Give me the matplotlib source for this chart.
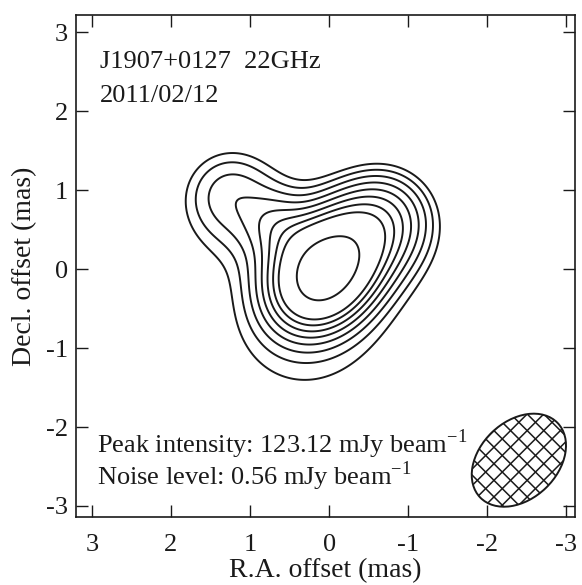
import numpy as np
import matplotlib
matplotlib.use("Agg")
import matplotlib.pyplot as plt
from matplotlib.patches import Ellipse

plt.rcParams['font.family'] = ['Liberation Serif', 'DejaVu Serif']
plt.rcParams['mathtext.fontset'] = 'custom'
plt.rcParams['mathtext.rm'] = 'Liberation Serif'
plt.rcParams['axes.unicode_minus'] = False

# Brightness model: elliptical Gaussian components
# (R.A. offset, Decl. offset [mas], relative amplitude, sigma major/minor [mas], angle [deg])
comp_x = [0.070, 1.290, 0.676, -0.722, 0.259]
comp_y = [-0.041, 1.021, 0.580, 0.699, -1.069]
comp_amp = [1.0, 0.3536, 0.1273, 0.4379, 0.6450]
comp_smaj = [0.544, 0.584, 0.279, 0.553, 2.821]
comp_smin = [0.438, 0.584, 0.279, 0.553, 2.821]
comp_ang = [128.8, 0.0, 0.0, 0.0, 0.0]

# contour levels as fractions of the map peak
levels_frac = [0.3971, 0.4289, 0.4632, 0.5004, 0.5404, 0.5837, 0.6304, 0.6808, 0.8517]

peak_mjy = 123.12
noise_mjy = 0.56
source_name = 'J1907+0127  22GHz'
obs_date = '2011/02/12'

beam_x, beam_y = -2.4, -2.42
beam_major, beam_minor, beam_angle = 1.36, 0.98, 136.0

xticks = [3, 2, 1, 0, -1, -2, -3]
yticks = [-3, -2, -1, 0, 1, 2, 3]

x = np.linspace(3.3, -3.3, 600)
y = np.linspace(-3.3, 3.3, 600)
X, Y = np.meshgrid(x, y)
Z = np.zeros_like(X)
for cx, cy, a, sa, sb, ang in zip(comp_x, comp_y, comp_amp, comp_smaj, comp_smin, comp_ang):
    t = np.deg2rad(ang)
    dx, dy = X - cx, Y - cy
    u = dx * np.cos(t) + dy * np.sin(t)
    v = -dx * np.sin(t) + dy * np.cos(t)
    Z += a * np.exp(-0.5 * ((u / sa) ** 2 + (v / sb) ** 2))
Z = Z / Z.max() * peak_mjy

fig = plt.figure(figsize=(5.82, 5.85), dpi=100)
ax = fig.add_axes([0.1306, 0.1162, 0.8574, 0.8581])
ax.contour(X, Y, Z, levels=[l * peak_mjy for l in levels_frac], colors='#1a1a1a', linewidths=1.4)

beam = Ellipse((beam_x, beam_y), beam_major, beam_minor, angle=beam_angle,
               facecolor='none', edgecolor='#1a1a1a', linewidth=1.4, zorder=3)
ax.add_patch(beam)
hatch_step = 0.21
for c in np.arange(-1.2, 1.2 + 1e-9, hatch_step):
    for sgn in (1, -1):
        xs = np.array([beam_x - 1.2, beam_x + 1.2])
        ys = beam_y + sgn * (xs - beam_x) + c
        ln, = ax.plot(xs, ys, color='#1a1a1a', lw=1.1, zorder=2)
        ln.set_clip_path(beam)

ax.set_xlim(3.2, -3.11)
ax.set_ylim(-3.14, 3.22)
ax.set_xticks(xticks)
ax.set_yticks(yticks)
ax.tick_params(direction='in', length=8.5, width=1.0, top=True, right=True,
               labelsize=19, colors='#1a1a1a')
ax.tick_params(axis='x', pad=12)
ax.tick_params(axis='y', pad=6)
for s in ax.spines.values():
    s.set_linewidth(1.2)
    s.set_color('#1a1a1a')
ax.set_xlabel('R.A. offset (mas)', fontsize=20, labelpad=2, color='#1a1a1a')
ax.set_ylabel('Decl. offset (mas)', fontsize=20, labelpad=6, color='#1a1a1a')

ax.text(0.048, 0.894, source_name, transform=ax.transAxes, fontsize=19, color='#1a1a1a')
ax.text(0.048, 0.827, obs_date, transform=ax.transAxes, fontsize=19, color='#1a1a1a')
ax.text(0.042, 0.127, 'Peak intensity: %.2f mJy beam$^{\\mathregular{-1}}$' % peak_mjy,
        transform=ax.transAxes, fontsize=19, color='#1a1a1a')
ax.text(0.042, 0.064, 'Noise level: %.2f mJy beam$^{\\mathregular{-1}}$' % noise_mjy,
        transform=ax.transAxes, fontsize=19, color='#1a1a1a')

fig.savefig('out.png', dpi=100)
